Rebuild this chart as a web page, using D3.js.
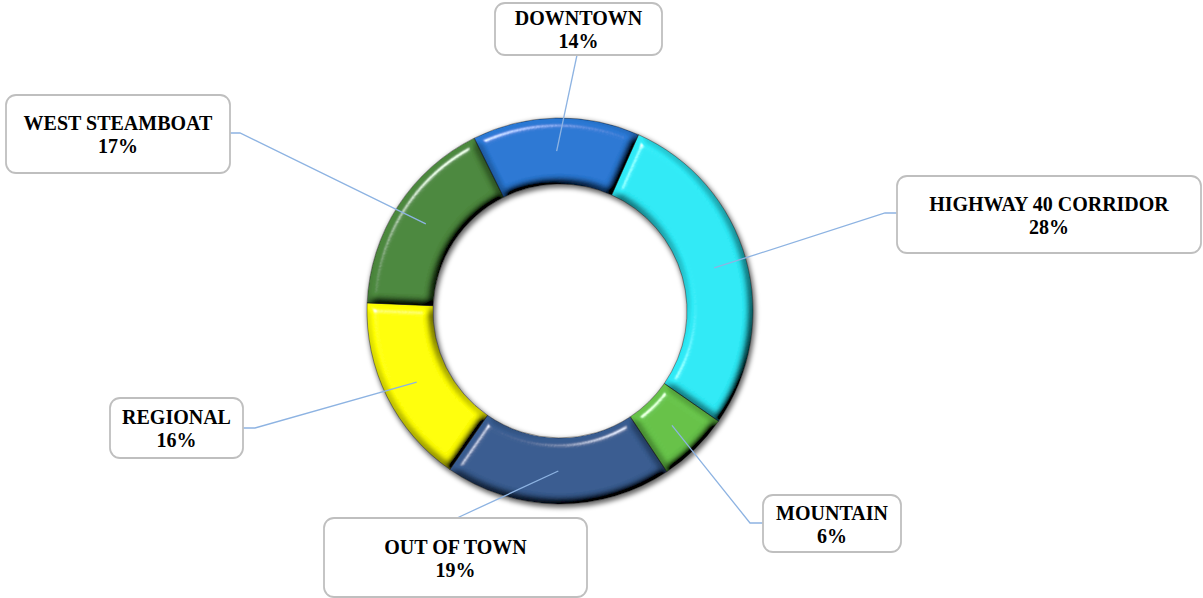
<!DOCTYPE html>
<html><head><meta charset="utf-8">
<script src="https://cdn.jsdelivr.net/npm/d3@7"></script>
<style>body{margin:0;background:#fff;} svg{display:block}</style>
</head><body><svg id="chart" width="1203" height="598"></svg>
<script>
// ---- data ----
const categories = ["DOWNTOWN", "HIGHWAY 40 CORRIDOR", "MOUNTAIN", "OUT OF TOWN", "REGIONAL", "WEST STEAMBOAT"];
const values = [14, 28, 6, 19, 16, 17];
const percentLabels = ["14%", "28%", "6%", "19%", "16%", "17%"];
const sliceColors = ["#2A78D4", "#2DEAF6", "#66C248", "#385C90", "#FFFF00", "#4C883D"];

// ---- layout (label boxes and leader bends) ----
const boxLayout = [
  {x: 495, y: 3,   w: 167, h: 52, bend: [[577, 55]]},
  {x: 897, y: 176, w: 304, h: 77, bend: [[885, 213], [897, 213]]},
  {x: 763, y: 495, w: 138, h: 57, bend: [[750, 523], [763, 523]]},
  {x: 324, y: 518, w: 263, h: 79, bend: [[457, 518]]},
  {x: 110, y: 398, w: 133, h: 60, bend: [[255, 428], [243, 428]]},
  {x: 6,   y: 95,  w: 224, h: 78, bend: [[240, 133], [230, 133]]}
];

const cx = 560, cy = 311, rOuter = 193, rInner = 127;
const startDeg = -26.4;

const svg = d3.select("#chart");
const defs = svg.append("defs");

// bevel filter
const f = defs.append("filter").attr("id", "bevel")
  .attr("x", "-15%").attr("y", "-15%").attr("width", "130%").attr("height", "130%");
f.append("feGaussianBlur").attr("in", "SourceAlpha").attr("stdDeviation", 4.5).attr("result", "blur");
const diff = f.append("feDiffuseLighting").attr("in", "blur").attr("surfaceScale", 10)
  .attr("diffuseConstant", 1.2).attr("lighting-color", "#fff").attr("result", "diff");
diff.append("feDistantLight").attr("azimuth", 235).attr("elevation", 56);
f.append("feComposite").attr("in", "SourceGraphic").attr("in2", "diff")
  .attr("operator", "arithmetic").attr("k1", 1).attr("k2", 0).attr("k3", 0).attr("k4", 0).attr("result", "lit");
const spec = f.append("feSpecularLighting").attr("in", "blur").attr("surfaceScale", 10)
  .attr("specularConstant", 1.0).attr("specularExponent", 45).attr("lighting-color", "#fff").attr("result", "spec");
spec.append("feDistantLight").attr("azimuth", 235).attr("elevation", 35);
f.append("feComposite").attr("in", "spec").attr("in2", "SourceAlpha").attr("operator", "in").attr("result", "specIn");
f.append("feComposite").attr("in", "lit").attr("in2", "specIn")
  .attr("operator", "arithmetic").attr("k1", 0).attr("k2", 1).attr("k3", 0.75).attr("k4", 0).attr("result", "sum");
f.append("feComposite").attr("in", "sum").attr("in2", "SourceAlpha").attr("operator", "in");

// shadow filter
const sh = defs.append("filter").attr("id", "shadow")
  .attr("x", "-20%").attr("y", "-20%").attr("width", "140%").attr("height", "140%");
sh.append("feGaussianBlur").attr("in", "SourceGraphic").attr("stdDeviation", 2.5);

const pie = d3.pie().sort(null).value(d => d)
  .startAngle(startDeg * Math.PI / 180)
  .endAngle(startDeg * Math.PI / 180 + 2 * Math.PI);
const arcs = pie(values);
const arc = d3.arc().innerRadius(rInner).outerRadius(rOuter);

const g = svg.append("g").attr("transform", `translate(${cx},${cy})`);

// shadow ring
g.append("path")
  .attr("d", d3.arc().innerRadius(rInner - 1).outerRadius(rOuter + 1).startAngle(0).endAngle(2 * Math.PI)())
  .attr("transform", "translate(1.5,2.5)")
  .attr("fill", "rgba(0,0,0,0.6)")
  .attr("filter", "url(#shadow)");

g.selectAll("path.slice").data(arcs).enter().append("path")
  .attr("class", "slice")
  .attr("d", arc)
  .attr("fill", (d, i) => sliceColors[i])
  .attr("filter", "url(#bevel)");

g.selectAll("path.edge").data(arcs).enter().append("path")
  .attr("class", "edge")
  .attr("d", arc)
  .attr("fill", "none")
  .attr("stroke", "rgba(0,0,0,0.45)")
  .attr("stroke-width", 0.8);

// leader lines
const line = d3.line();
svg.append("g").selectAll("path").data(arcs).enter().append("path")
  .attr("d", (d, i) => {
    const c = arc.centroid(d);
    const pts = [[cx + c[0], cy + c[1]]].concat(boxLayout[i].bend);
    return line(pts);
  })
  .attr("fill", "none")
  .attr("stroke", "#8DB3E2")
  .attr("stroke-width", 1.3);

// label boxes
const lb = svg.append("g").selectAll("g").data(categories).enter().append("g");
lb.append("rect")
  .attr("x", (d, i) => boxLayout[i].x).attr("y", (d, i) => boxLayout[i].y)
  .attr("width", (d, i) => boxLayout[i].w).attr("height", (d, i) => boxLayout[i].h)
  .attr("rx", 10).attr("ry", 10)
  .attr("fill", "#fff").attr("stroke", "#BFBFBF").attr("stroke-width", 1.8);
const tx = lb.append("text")
  .attr("text-anchor", "middle")
  .attr("font-family", "'Liberation Serif', 'Times New Roman', serif")
  .attr("font-weight", "bold").attr("font-size", 20).attr("fill", "#000");
tx.append("tspan")
  .attr("x", (d, i) => boxLayout[i].x + boxLayout[i].w / 2)
  .attr("y", (d, i) => boxLayout[i].y + boxLayout[i].h / 2 - 4)
  .text(d => d);
tx.append("tspan")
  .attr("x", (d, i) => boxLayout[i].x + boxLayout[i].w / 2)
  .attr("y", (d, i) => boxLayout[i].y + boxLayout[i].h / 2 + 19)
  .text((d, i) => percentLabels[i]);
</script>
</body></html>
